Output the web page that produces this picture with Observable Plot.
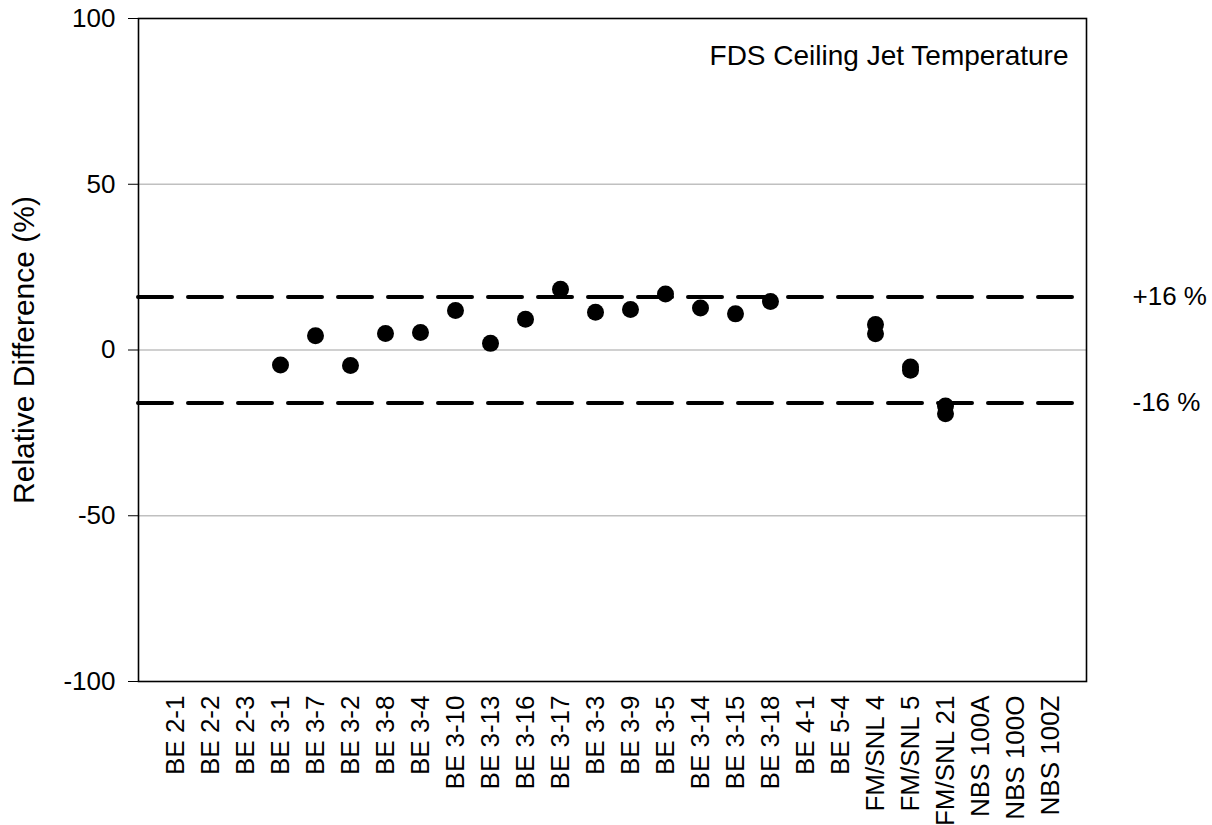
<!DOCTYPE html>
<html>
<head>
<meta charset="utf-8">
<script src="https://cdn.jsdelivr.net/npm/d3@7"></script>
<script src="https://cdn.jsdelivr.net/npm/@observablehq/plot@0.6"></script>
<style>
  html, body { margin: 0; padding: 0; background: #fff; }
  #chart { width: 1212px; height: 825px; }
</style>
</head>
<body>
<div id="chart"></div>
<script>
const categories = ["BE 2-1","BE 2-2","BE 2-3","BE 3-1","BE 3-7","BE 3-2","BE 3-8","BE 3-4","BE 3-10","BE 3-13","BE 3-16","BE 3-17","BE 3-3","BE 3-9","BE 3-5","BE 3-14","BE 3-15","BE 3-18","BE 4-1","BE 5-4","FM/SNL 4","FM/SNL 5","FM/SNL 21","NBS 100A","NBS 100O","NBS 100Z"];
const pointCats = ["BE 3-1","BE 3-7","BE 3-2","BE 3-8","BE 3-4","BE 3-10","BE 3-13","BE 3-16","BE 3-17","BE 3-3","BE 3-9","BE 3-5","BE 3-14","BE 3-15","BE 3-18","FM/SNL 4","FM/SNL 4","FM/SNL 5","FM/SNL 5","FM/SNL 21","FM/SNL 21"];
const pointVals = [-4.5, 4.3, -4.7, 5.0, 5.3, 11.9, 2.0, 9.3, 18.3, 11.4, 12.2, 16.9, 12.7, 10.9, 14.6, 7.7, 4.9, -5.1, -6.1, -16.9, -19.2];
const yTicks = [-100, -50, 0, 50, 100];
const gridValues = [-50, 0, 50];
const bandValues = [16, -16];
const bandLabels = ["+16 %", "-16 %"];
const title = "FDS Ceiling Jet Temperature";
const yLabel = "Relative Difference (%)";

const points = pointCats.map((c, i) => ({cat: c, val: pointVals[i]}));
const bands = bandValues.map((v, i) => ({val: v, label: bandLabels[i]}));

const chart = Plot.plot({
  width: 1212,
  height: 825,
  marginLeft: 138,
  marginRight: 126,
  marginTop: 18,
  marginBottom: 144,
  style: {fontFamily: "'Liberation Sans', Arial, sans-serif", fontSize: "26px", color: "black", background: "white"},
  x: {type: "point", domain: categories, padding: 1},
  y: {domain: [-100, 100]},
  marks: [
    Plot.ruleY(gridValues, {stroke: "#c0c0c0", strokeWidth: 1.3}),
    Plot.ruleY(bandValues, {stroke: "black", strokeWidth: 4, strokeDasharray: "34,16", strokeLinecap: "round"}),
    Plot.dot(points, {x: "cat", y: "val", r: 8.5, fill: "black", stroke: "none"}),
    Plot.frame({stroke: "black", strokeWidth: 1.6}),
    Plot.axisX({tickRotate: -90, tickSize: 0, tickPadding: 14, label: null, fontSize: 26}),
    Plot.axisY({ticks: yTicks, tickSize: 10, tickPadding: 13, tickFormat: d => String(d), fontSize: 26, label: null}),
    Plot.axisY({ticks: [], tickSize: 0, fontSize: 30,
      label: yLabel, labelAnchor: "center", labelArrow: "none", labelOffset: 126}),
    Plot.text(bands, {y: "val", text: "label", frameAnchor: "right", dx: 46, textAnchor: "start", fontSize: 26, fill: "black"}),
    Plot.text([title], {frameAnchor: "top-right", dx: -18, dy: 27, textAnchor: "end", fontSize: 28, fill: "black"})
  ]
});
document.getElementById("chart").appendChild(chart);
</script>
</body>
</html>
